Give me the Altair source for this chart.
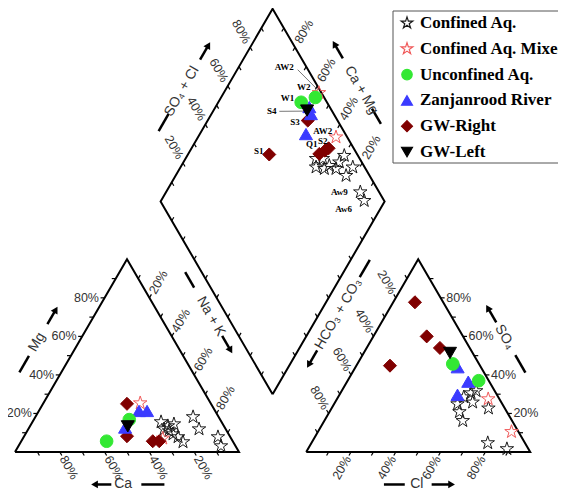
import math
import altair as alt
import pandas as pd

H = math.sqrt(3) / 2
GAP = 30.0
BX, BY = 100 + GAP / 2, GAP / 2 * math.sqrt(3)   # bottom vertex of the diamond

GROUPS = ["Confined Aq.", "Confined Aq. Mixed", "Unconfined Aq.",
          "Zanjanrood River", "GW-Right", "GW-Left"]
DRAW_ORDER = ["Confined Aq.", "Confined Aq. Mixed", "GW-Right",
              "Zanjanrood River", "Unconfined Aq.", "GW-Left"]

# ---------------- cation triangle: Ca %, Mg % (Na+K = rest) ----------------
cat_group = (["GW-Right"] * 4 + ["Confined Aq. Mixed"] * 2 + ["Zanjanrood River"] * 3
             + ["Unconfined Aq."] * 2 + ["GW-Left"] + ["Confined Aq."] * 12)
cat_ca = [37.5, 45.9, 35.7, 32.8, 31.4, 30.5, 34.0, 30.4, 44.5, 40.6, 56.3, 43.0,
          27.0, 25.0, 21.8, 25.8, 24.8, 23.3, 22.4, 11.4, 11.9, 5.5, 6.5, 27.5]
cat_mg = [25.0, 8.2, 5.6, 5.6, 25.4, 7.1, 21.3, 21.3, 12.7, 16.8, 5.6, 13.3,
          15.6, 13.5, 14.5, 10.9, 9.3, 7.8, 5.2, 18.2, 11.9, 7.8, 3.1, 11.9]

# ---------------- anion triangle: Cl %, SO4 % (HCO3+CO3 = rest) ----------------
an_group = (["GW-Right"] * 4 + ["GW-Left"] + ["Unconfined Aq."] * 2 + ["Zanjanrood River"] * 3
            + ["Confined Aq. Mixed"] * 2 + ["Confined Aq."] * 10)
an_cl = [9.7, 23.8, 32.7, 15.0, 38.5, 42.6, 58.5, 45.6, 54.1, 52.7, 67.5, 86.4,
         58.3, 60.0, 55.1, 61.4, 58.0, 61.8, 70.0, 78.7, 88.8, 56.1]
an_so4 = [77.7, 60.0, 54.0, 44.8, 51.4, 45.7, 37.0, 44.0, 36.5, 29.7, 27.5, 10.5,
          30.6, 31.7, 24.9, 25.8, 20.8, 16.2, 22.7, 4.7, 1.6, 28.5]

# ---------------- diamond: Ca+Mg %, SO4+Cl % ----------------
dm_group = (["Unconfined Aq."] * 2 + ["Confined Aq. Mixed"] * 2 + ["Zanjanrood River"] * 3
            + ["GW-Left"] + ["GW-Right"] * 5 + ["Confined Aq."] * 12)
dm_cm = [63.0, 57.9, 57.5, 38.4, 58.1, 55.6, 52.6, 58.2, 55.3, 41.5, 39.8, 38.8, 63.7,
         41.7, 38.7, 34.0, 30.4, 39.5, 35.4, 30.2, 23.9, 29.9, 23.1, 13.3, 9.3]
dm_sc = [88.5, 96.1, 98.9, 95.0, 90.9, 89.8, 82.4, 89.0, 86.7, 83.2, 86.6, 88.8, 60.7,
         80.5, 83.5, 84.6, 90.0, 78.3, 81.6, 86.8, 89.5, 93.9, 94.7, 91.6, 91.1]

# sample labels in the diamond (anchor given as Ca+Mg %, SO4+Cl %)
lab_text = ["AW2", "W2", "W1", "S4", "S3", "AW2", "S2", "Q1", "S1", "Aw9", "Aw6"]
lab_cm = [79.6, 65.8, 70.1, 73.8, 60.7, 46.0, 43.4, 47.4, 69.4, 22.6, 16.4]
lab_sc = [90.0, 93.6, 83.5, 73.0, 80.7, 90.8, 88.2, 82.4, 57.0, 82.2, 79.8]
lead_cm = [(73.0, 58.9), (70.4, 59.3)]
lead_sc = [(95.4, 99.1), (76.4, 87.6)]

tick_vals = [10, 20, 30, 40, 50, 60, 70, 80, 90]
label_vals = [20, 40, 60, 80]


def cation_xy(ca, mg):
    return 100 - ca - mg / 2, H * mg


def anion_xy(cl, so4):
    return 100 + GAP + cl + so4 / 2, H * so4


def diamond_xy(cm, sc):
    return BX + (sc - cm) / 2, BY + H * (cm + sc)


# ---------------- scales / layout ----------------
KX, KY = 2.24, 2.225
W, HH = 550, 484
ORIGIN_PX = (15, 452)          # page pixel of the cation triangle's Ca corner
XMIN = -(ORIGIN_PX[0] - 8) / KX
XMAX = XMIN + W / KX
YMAX = (ORIGIN_PX[1] - 8) / KY
YMIN = YMAX - HH / KY


def px_to_data(px, py):
    return XMIN + (px - 8) / KX, YMAX - (py - 8) / KY


X = alt.X("x:Q", scale=alt.Scale(domain=[XMIN, XMAX], nice=False, zero=False), axis=None)
Y = alt.Y("y:Q", scale=alt.Scale(domain=[YMIN, YMAX], nice=False, zero=False), axis=None)
X2 = alt.X2("x2:Q")
Y2 = alt.Y2("y2:Q")

STAR = ("M0,-1L0.2245,-0.309L0.951,-0.309L0.3633,0.118L0.588,0.809L0,0.382"
        "L-0.588,0.809L-0.3633,0.118L-0.951,-0.309L-0.2245,-0.309Z")
DIAM = "M0,-1L1,0L0,1L-1,0Z"
shape_range = [STAR, STAR, "circle", "triangle-up", DIAM, "triangle-down"]
stroke_range = ["#1a1a1a", "#f05a5a", "#33e833", "#3b3bff", "#800000", "#000000"]
fill_range = ["transparent", "transparent", "#33e833", "#3b3bff", "#800000", "#000000"]
size_plot = [200, 200, 160, 170, 170, 170]
size_legend = [150, 150, 110, 120, 120, 120]

SHAPE = alt.Shape("group:N", scale=alt.Scale(domain=GROUPS, range=shape_range), legend=None)
STROKE = alt.Stroke("group:N", scale=alt.Scale(domain=GROUPS, range=stroke_range), legend=None)
FILL = alt.Fill("group:N", scale=alt.Scale(domain=GROUPS, range=fill_range), legend=None)

# ---------------- points ----------------
rows = []
for g, a, b in zip(cat_group, cat_ca, cat_mg):
    x, y = cation_xy(a, b)
    rows.append(dict(group=g, x=x, y=y))
for g, a, b in zip(an_group, an_cl, an_so4):
    x, y = anion_xy(a, b)
    rows.append(dict(group=g, x=x, y=y))
for g, a, b in zip(dm_group, dm_cm, dm_sc):
    x, y = diamond_xy(a, b)
    rows.append(dict(group=g, x=x, y=y))
pts = pd.DataFrame(rows)
pts["rank"] = pts["group"].map(DRAW_ORDER.index)
pts = pts.sort_values("rank", kind="stable").reset_index(drop=True)
pts["ord"] = range(len(pts))
pts["sz"] = pts["group"].map(dict(zip(GROUPS, size_plot)))

# ---------------- frame ----------------
frame_rows = []
polys = {
    "cat": [(0, 0), (100, 0), (50, 100 * H), (0, 0)],
    "an": [(130, 0), (230, 0), (180, 100 * H), (130, 0)],
    "dm": [diamond_xy(0, 0), diamond_xy(100, 0), diamond_xy(100, 100),
           diamond_xy(0, 100), diamond_xy(0, 0)],
}
for k, vs in polys.items():
    for i, (x, y) in enumerate(vs):
        frame_rows.append(dict(poly=k, o=i, x=x, y=y))
frame = pd.DataFrame(frame_rows)

# ---------------- ticks and tick labels ----------------
TL = 1.8
LO = 2.5
axes_spec = [
    dict(pos=lambda v: (100 - v, 0), t=(0.5, -H), l=(0.5, -H), ang=60, al="left", lab=True),
    dict(pos=lambda v: (v / 2, H * v), t=(-1, 0), l=(-1, 0), ang=0, al="right", lab=True),
    dict(pos=lambda v: (50 + v / 2, H * (100 - v)), t=(0.5, H), l=(0.5, H), ang=300, al="left", lab=True),
    dict(pos=lambda v: (130 + v, 0), t=(-0.5, -H), l=(-0.5, -H), ang=300, al="right", lab=True),
    dict(pos=lambda v: (230 - v / 2, H * v), t=(1, 0), l=(1, 0), ang=0, al="left", lab=True),
    dict(pos=lambda v: (130 + (100 - v) / 2, H * (100 - v)), t=(-0.5, H), l=(-0.5, H), ang=60, al="right", lab=True),
    dict(pos=lambda v: diamond_xy(100, v), t=(0.5, -H), l=(-0.5, H), ang=60, al="right", lab=True),
    dict(pos=lambda v: diamond_xy(v, 100), t=(-0.5, -H), l=(0.5, H), ang=300, al="left", lab=True),
    dict(pos=lambda v: diamond_xy(v, 0), t=(0.5, H), l=(0, 0), ang=0, al="left", lab=False),
    dict(pos=lambda v: diamond_xy(0, v), t=(-0.5, H), l=(0, 0), ang=0, al="left", lab=False),
]
tick_rows, tlab_rows = [], []
for s in axes_spec:
    for v in tick_vals:
        x, y = s["pos"](v)
        tick_rows.append(dict(x=x, y=y, x2=x + TL * s["t"][0], y2=y + TL * s["t"][1]))
    if s["lab"]:
        for v in label_vals:
            x, y = s["pos"](v)
            tlab_rows.append(dict(x=x + LO * s["l"][0], y=y + LO * s["l"][1],
                                  text=f"{v}%", ang=s["ang"], al=s["al"]))
ticks = pd.DataFrame(tick_rows)
tlabs = pd.DataFrame(tlab_rows)

# ---------------- axis titles with dashes and arrows ----------------
titles = [
    ("Mg", (0, 0), (0.5, H), (-H, 0.5), 47.7, 16.2, (32, 40.5), (57, 66), 300),
    ("Ca", (0, 0), (1, 0), (0, -1), 48.3, 14.6, (56.4, 66.7), (43, 34), 0),
    ("Na + K", (50, 100 * H), (0.5, -H), (H, 0.5), 41, 19.6, (18, 26), (51, 60), 60),
    ("HCO\u2083 + CO\u2083", (130, 0), (0.5, H), (-H, 0.5), 60.9, 18.6, (80, 89), (42, 33), 300),
    ("Cl", (130, 0), (1, 0), (0, -1), 49.4, 14.6, (34.7, 44), (56, 66.4), 0),
    ("SO\u2084", (230, 0), (-0.5, H), (H, 0.5), 50.4, 16.0, (32, 41), (58, 67), 60),
    ("SO\u2084 + Cl", diamond_xy(100, 0), (0.5, H), (-H, 0.5), 47.6, 16.6, (27, 36), (64, 73), 300),
    ("Ca + Mg", diamond_xy(100, 100), (0.5, -H), (H, 0.5), 51.5, 16.0, (61, 69), (35, 26), 60),
]
ttl_rows, seg_rows, head_rows = [], [], []


def along(A, u, n, t, d):
    return A[0] + t * u[0] + d * n[0], A[1] + t * u[1] + d * n[1]


for text, A, u, n, tt, d, dash, arr, ang in titles:
    x, y = along(A, u, n, tt, d)
    ttl_rows.append(dict(x=x, y=y, text=text, ang=ang))
    x1, y1 = along(A, u, n, dash[0], d)
    x2, y2 = along(A, u, n, dash[1], d)
    seg_rows.append(dict(x=x1, y=y1, x2=x2, y2=y2))
    sg = 1 if arr[1] > arr[0] else -1
    x1, y1 = along(A, u, n, arr[0], d)
    x2, y2 = along(A, u, n, arr[1] - sg * 2.0, d)
    seg_rows.append(dict(x=x1, y=y1, x2=x2, y2=y2))
    hx, hy = along(A, u, n, arr[1] - sg * 1.5, d)
    dx, dy = sg * u[0], sg * u[1]
    head_rows.append(dict(x=hx, y=hy, ang=math.degrees(math.atan2(dx, dy)) % 360))
ttl = pd.DataFrame(ttl_rows)
segs = pd.DataFrame(seg_rows)
heads = pd.DataFrame(head_rows)

# ---------------- sample annotations ----------------
labs = pd.DataFrame([dict(x=diamond_xy(c, s)[0], y=diamond_xy(c, s)[1], text=t)
                     for t, c, s in zip(lab_text, lab_cm, lab_sc)])
lead_rows = []
for (c1, c2), (s1, s2) in zip(lead_cm, lead_sc):
    xa, ya = diamond_xy(c1, s1)
    xb, yb = diamond_xy(c2, s2)
    lead_rows.append(dict(x=xa, y=ya, x2=xb, y2=yb))
leads = pd.DataFrame(lead_rows)

# ---------------- legend (built from GROUPS through the same scales) ----------------
LEG_BOX = (393, 11, 640, 163)      # page px: left, top, right, bottom
LEG_SYM_X, LEG_TXT_X, LEG_ROW0, LEG_STEP = 407, 420, 23, 25.8
bx1, by1 = px_to_data(LEG_BOX[0], LEG_BOX[1])
bx2, by2 = px_to_data(LEG_BOX[2], LEG_BOX[3])
legbox = pd.DataFrame([dict(x=bx1, y=by1, x2=bx2, y2=by2)])
leg_rows = []
for i, g in enumerate(GROUPS):
    sx, sy = px_to_data(LEG_SYM_X, LEG_ROW0 + i * LEG_STEP)
    tx, _ = px_to_data(LEG_TXT_X, 0)
    leg_rows.append(dict(group=g, x=sx, y=sy, tx=tx, sz=size_legend[i]))
legdf = pd.DataFrame(leg_rows)

# ---------------- layers ----------------
frame_l = alt.Chart(frame).mark_line(color="black", strokeWidth=2, strokeJoin="miter").encode(
    x=X, y=Y, detail="poly:N", order="o:Q")
tick_l = alt.Chart(ticks).mark_rule(color="black", strokeWidth=1.2).encode(x=X, y=Y, x2=X2, y2=Y2)
seg_l = alt.Chart(segs).mark_rule(color="black", strokeWidth=2.5).encode(x=X, y=Y, x2=X2, y2=Y2)
head_l = alt.Chart(heads).mark_point(shape="triangle-up", filled=True, color="black",
                                     size=60, opacity=1).encode(
    x=X, y=Y, angle=alt.Angle("ang:Q", scale=None))
ttl_l = alt.Chart(ttl).mark_text(font="Liberation Sans", fontSize=14, color="#333",
                                 align="center", baseline="middle").encode(
    x=X, y=Y, text="text:N", angle=alt.Angle("ang:Q", scale=None))
tlab_layers = []
for al in ["left", "right"]:
    tlab_layers.append(
        alt.Chart(tlabs[tlabs["al"] == al]).mark_text(
            font="Liberation Sans", fontSize=12.5, color="#333", align=al, baseline="middle"
        ).encode(x=X, y=Y, text="text:N", angle=alt.Angle("ang:Q", scale=None)))
pts_l = alt.Chart(pts).mark_point(filled=False, strokeWidth=1, opacity=1).encode(
    x=X, y=Y, shape=SHAPE, stroke=STROKE, fill=FILL,
    size=alt.Size("sz:Q", scale=None),
    order=alt.Order("ord:Q"),
)
lead_l = alt.Chart(leads).mark_rule(color="#555", strokeWidth=0.8).encode(x=X, y=Y, x2=X2, y2=Y2)
lab_l = alt.Chart(labs).mark_text(font="Liberation Serif", fontWeight="bold", fontSize=9,
                                  color="black", align="center", baseline="middle").encode(
    x=X, y=Y, text="text:N")
legbox_l = alt.Chart(legbox).mark_rect(fill="white", stroke="#555", strokeWidth=1).encode(
    x=X, y=Y, x2=X2, y2=Y2)
legsym_l = alt.Chart(legdf).mark_point(filled=False, strokeWidth=1.2, opacity=1).encode(
    x=X, y=Y, shape=SHAPE, stroke=STROKE, fill=FILL, size=alt.Size("sz:Q", scale=None))
legtxt_l = alt.Chart(legdf).mark_text(font="Liberation Serif", fontWeight="bold", fontSize=17,
                                      color="black", align="left", baseline="middle").encode(
    x=alt.X("tx:Q", scale=alt.Scale(domain=[XMIN, XMAX], nice=False, zero=False), axis=None),
    y=Y, text="group:N")

chart = alt.layer(frame_l, tick_l, seg_l, head_l, ttl_l, *tlab_layers, lead_l, pts_l, lab_l,
                  legbox_l, legsym_l, legtxt_l).properties(
    width=W, height=HH, padding=0, autosize="none"
).configure_view(stroke=None)

chart.save("out.html", embed_options={"renderer": "svg", "actions": False})
